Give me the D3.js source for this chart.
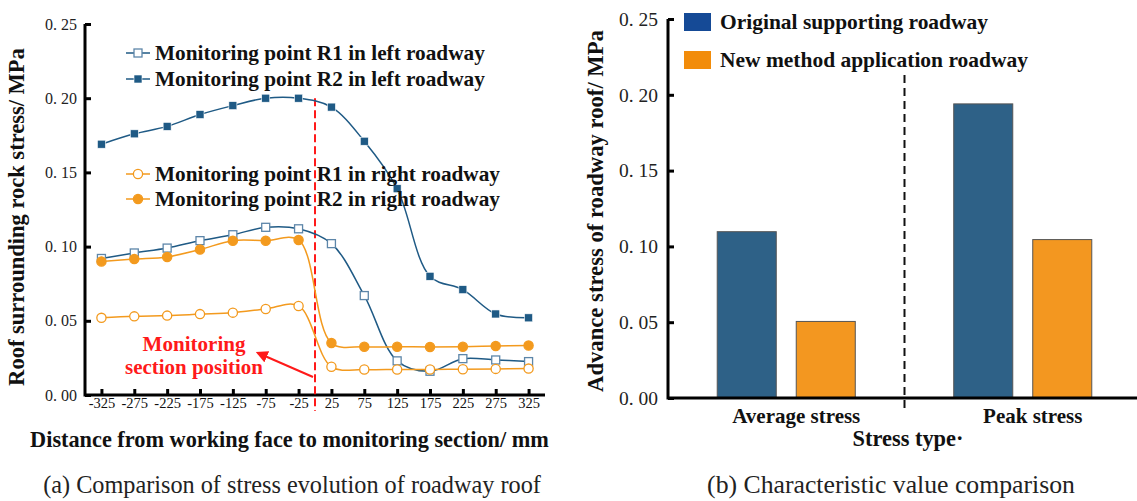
<!DOCTYPE html>
<html>
<head>
<meta charset="utf-8">
<script src="https://cdn.jsdelivr.net/npm/d3@7"></script>
<style>
  html, body { margin: 0; padding: 0; background: #fff; }
  svg { display: block; font-family: "Liberation Serif", "Times New Roman", serif; }
</style>
</head>
<body>
<svg id="chart" width="1137" height="501"></svg>
<script>
// ---- (a) stress evolution along the roadway ----
const distances = [-325, -275, -225, -175, -125, -75, -25, 25, 75, 125, 175, 225, 275, 325];
const leftR1  = [0.092, 0.0957, 0.099, 0.104, 0.108, 0.113, 0.112, 0.102, 0.067, 0.023, 0.016, 0.0245, 0.0236, 0.0225];
const leftR2  = [0.169, 0.176, 0.181, 0.189, 0.195, 0.2, 0.2, 0.194, 0.171, 0.139, 0.080, 0.071, 0.0546, 0.052];
const rightR1 = [0.052, 0.053, 0.0535, 0.0545, 0.0555, 0.058, 0.060, 0.019, 0.0172, 0.0172, 0.0172, 0.0174, 0.0176, 0.0178];
const rightR2 = [0.090, 0.0916, 0.093, 0.098, 0.104, 0.104, 0.1045, 0.035, 0.0325, 0.0325, 0.0324, 0.0325, 0.033, 0.0333];
const seriesNames = [
  "Monitoring point R1 in left roadway",
  "Monitoring point R2 in left roadway",
  "Monitoring point R1 in right roadway",
  "Monitoring point R2 in right roadway"
];
const stressTicks = [0, 0.05, 0.10, 0.15, 0.20, 0.25];

// ---- (b) characteristic values ----
const stressTypes = ["Average stress", "Peak stress"];
const roadwayTypes = ["Original supporting roadway", "New method application roadway"];
const originalValues = [0.1097, 0.194];
const newMethodValues = [0.0505, 0.1045];

const BLUE = "#1f5a85";
const BLUE_LIGHT = "#5d86a9";
const ORANGE = "#f39a1e";
const BAR_BLUE = "#2e6187";
const BAR_ORANGE = "#f39720";
const SW_BLUE = "#154a96";
const SW_ORANGE = "#f28c0a";
const SERIF = "'Liberation Serif', 'Times New Roman', serif";

const svg = d3.select("#chart").attr("font-family", SERIF);
const fmt = v => d3.format(".2f")(v).replace(".", ". ");

// scale a text's font size so that it spans the given width
function fitWidth(sel, width) {
  sel.each(function () {
    const t = d3.select(this);
    const fs = parseFloat(t.attr("font-size"));
    const w = this.getComputedTextLength();
    if (w > 0) t.attr("font-size", (fs * width / w).toFixed(2));
  });
  return sel;
}

// ================= panel (a) =================
const xA = d3.scaleLinear().domain([-350, 350]).range([85, 545]);
const yA = d3.scaleLinear().domain([0, 0.25]).range([395, 24]);

const gA = svg.append("g");

// axes (inward ticks)
const axA_x = gA.append("g").attr("transform", `translate(0,${yA(0)})`)
  .call(d3.axisBottom(xA).tickValues(distances).tickSize(-6).tickSizeOuter(0).tickFormat(d => d).tickPadding(3));
const axA_y = gA.append("g").attr("transform", `translate(${xA(-350)},0)`)
  .call(d3.axisLeft(yA).tickValues(stressTicks).tickSize(-6).tickSizeOuter(0).tickFormat(fmt).tickPadding(8));
[axA_x, axA_y].forEach(a => {
  a.attr("font-family", SERIF);
  a.select(".domain").attr("stroke", "#000").attr("stroke-width", 3);
  a.selectAll(".tick line").attr("stroke", "#000").attr("stroke-width", 3);
});
axA_x.selectAll(".tick text").attr("font-size", 14.5).attr("fill", "#111");
axA_y.selectAll(".tick text").attr("font-size", 16).attr("fill", "#222");
axA_x.select(".domain").attr("d", `M${xA(-350)},0H${xA(350)}`);
axA_y.select(".domain").attr("d", `M0,${yA(0) + 1.5}V${yA(0.25)}`);

// monitoring section line at distance 0
gA.append("line")
  .attr("x1", xA(0)).attr("x2", xA(0))
  .attr("y1", yA(0.2)).attr("y2", yA(0) + 16)
  .attr("stroke", "#ff1a1a").attr("stroke-width", 2).attr("stroke-dasharray", "8,4");

const lineGen = d3.line()
  .x((d, i) => xA(distances[i]))
  .y(d => yA(d))
  .curve(d3.curveCatmullRom.alpha(0.5));

const lineSeries = [
  { values: leftR1,  color: BLUE,   markStroke: BLUE_LIGHT, shape: "square", filled: false },
  { values: leftR2,  color: BLUE,   markStroke: BLUE,       shape: "square", filled: true },
  { values: rightR1, color: ORANGE, markStroke: ORANGE,     shape: "circle", filled: false },
  { values: rightR2, color: ORANGE, markStroke: ORANGE,     shape: "circle", filled: true }
];

function drawMarker(g, s, x, y) {
  if (s.shape === "square") {
    g.append("rect").attr("x", x - 4).attr("y", y - 4).attr("width", 8).attr("height", 8)
      .attr("fill", s.filled ? s.color : "#fff")
      .attr("stroke", s.filled ? "#fff" : s.markStroke).attr("stroke-width", s.filled ? 0.6 : 1.3);
  } else {
    g.append("circle").attr("cx", x).attr("cy", y).attr("r", 4.6)
      .attr("fill", s.filled ? s.color : "#fff")
      .attr("stroke", s.markStroke).attr("stroke-width", 1.3);
  }
}

lineSeries.forEach(s => {
  gA.append("path").datum(s.values).attr("d", lineGen)
    .attr("fill", "none").attr("stroke", s.color).attr("stroke-width", 1.5);
  const mg = gA.append("g");
  s.values.forEach((v, i) => drawMarker(mg, s, xA(distances[i]), yA(v)));
});

// legends
const legendRowsA = [
  { s: lineSeries[0], name: seriesNames[0], y: 53, w: 330 },
  { s: lineSeries[1], name: seriesNames[1], y: 79, w: 330 },
  { s: lineSeries[2], name: seriesNames[2], y: 174, w: 345 },
  { s: lineSeries[3], name: seriesNames[3], y: 199, w: 345 }
];
legendRowsA.forEach(r => {
  const g = gA.append("g");
  g.append("line").attr("x1", 126).attr("x2", 150).attr("y1", r.y).attr("y2", r.y)
    .attr("stroke", r.s.color).attr("stroke-width", 1.5);
  drawMarker(g, r.s, 138, r.y);
  g.append("text").attr("x", 155).attr("y", r.y + 7)
    .attr("font-size", 19).attr("font-weight", "bold").attr("fill", "#111")
    .text(r.name).call(fitWidth, r.w);
});

// annotation
const ann = gA.append("g").attr("fill", "#ff1a1a").attr("font-weight", "bold")
  .attr("text-anchor", "middle");
ann.append("text").attr("x", 194).attr("y", 351).attr("font-size", 19).text("Monitoring").call(fitWidth, 103);
ann.append("text").attr("x", 194).attr("y", 374).attr("font-size", 19).text("section position").call(fitWidth, 138);
svg.append("defs").append("marker").attr("id", "arrowRed")
  .attr("viewBox", "0 0 10 10").attr("refX", 8).attr("refY", 5)
  .attr("markerWidth", 6).attr("markerHeight", 6).attr("orient", "auto")
  .append("path").attr("d", "M0,0L10,5L0,10z").attr("fill", "#ff1a1a");
gA.append("line").attr("x1", xA(0) - 2).attr("y1", 377).attr("x2", 258).attr("y2", 353)
  .attr("stroke", "#ff1a1a").attr("stroke-width", 2).attr("marker-end", "url(#arrowRed)");

// titles
gA.append("text").attr("transform", "translate(24,217) rotate(-90)")
  .attr("text-anchor", "middle").attr("font-size", 18.5).attr("font-weight", "bold").attr("fill", "#111")
  .text("Roof surrounding rock stress/ MPa").call(fitWidth, 338);
gA.append("text").attr("x", 289.5).attr("y", 447)
  .attr("text-anchor", "middle").attr("font-size", 18.5).attr("font-weight", "bold").attr("fill", "#111")
  .text("Distance from working face to monitoring section/ mm").call(fitWidth, 519);
gA.append("text").attr("x", 292).attr("y", 493)
  .attr("text-anchor", "middle").attr("font-size", 18.5).attr("fill", "#222")
  .text("(a) Comparison of stress evolution of roadway roof").call(fitWidth, 498);

// ================= panel (b) =================
const x0 = d3.scaleBand().domain(stressTypes).range([668, 1141]);
const x1 = d3.scaleBand().domain(roadwayTypes).range([0, x0.bandwidth()])
  .paddingInner(0.253).paddingOuter(0.623);
const yB = d3.scaleLinear().domain([0, 0.25]).range([398, 19]);

const gB = svg.append("g");

const barData = stressTypes.map((t, i) => ({
  type: t,
  vals: [
    { key: roadwayTypes[0], v: originalValues[i], color: BAR_BLUE },
    { key: roadwayTypes[1], v: newMethodValues[i], color: BAR_ORANGE }
  ]
}));

gB.selectAll("g.grp").data(barData).join("g").attr("class", "grp")
  .attr("transform", d => `translate(${x0(d.type)},0)`)
  .selectAll("rect").data(d => d.vals).join("rect")
  .attr("x", d => x1(d.key)).attr("width", x1.bandwidth())
  .attr("y", d => yB(d.v)).attr("height", d => yB(0) - yB(d.v))
  .attr("fill", d => d.color).attr("stroke", "#555").attr("stroke-width", 1);

// divider between stress types
gB.append("line")
  .attr("x1", x0("Peak stress")).attr("x2", x0("Peak stress"))
  .attr("y1", 75).attr("y2", yB(0) + 10)
  .attr("stroke", "#111").attr("stroke-width", 2).attr("stroke-dasharray", "8,5");

const axB_y = gB.append("g").attr("transform", `translate(668,0)`)
  .call(d3.axisLeft(yB).tickValues(stressTicks).tickSize(-6).tickSizeOuter(0).tickFormat(fmt).tickPadding(10));
axB_y.attr("font-family", SERIF);
axB_y.select(".domain").attr("stroke", "#000").attr("stroke-width", 3)
  .attr("d", `M0,${yB(0) + 1.5}V${yB(0.25)}`);
axB_y.selectAll(".tick line").attr("stroke", "#000").attr("stroke-width", 3);
axB_y.selectAll(".tick text").attr("font-size", 19.5).attr("fill", "#222");

const axB_x = gB.append("g").attr("transform", `translate(0,${yB(0)})`)
  .call(d3.axisBottom(x0).tickSize(0).tickPadding(8));
axB_x.attr("font-family", SERIF);
axB_x.select(".domain").attr("stroke", "#000").attr("stroke-width", 3)
  .attr("d", `M668,0H1137`);
axB_x.selectAll(".tick text").attr("font-size", 21).attr("font-weight", "bold")
  .attr("fill", "#111").attr("dx", 10).attr("dy", "0.8em");

// legend
roadwayTypes.forEach((name, i) => {
  const y = 13 + i * 38;
  gB.append("rect").attr("x", 684).attr("y", y).attr("width", 27).attr("height", 18)
    .attr("fill", i === 0 ? SW_BLUE : SW_ORANGE);
  gB.append("text").attr("x", 720).attr("y", y + 16)
    .attr("font-size", 19).attr("font-weight", "bold").attr("fill", "#111").text(name)
    .call(fitWidth, i === 0 ? 268 : 308);
});

// titles
gB.append("text").attr("transform", "translate(603,211) rotate(-90)")
  .attr("text-anchor", "middle").attr("font-size", 18.5).attr("font-weight", "bold").attr("fill", "#111")
  .text("Advance stress of roadway roof/ MPa").call(fitWidth, 362);
gB.append("text").attr("x", 908).attr("y", 446)
  .attr("text-anchor", "middle").attr("font-size", 18.5).attr("font-weight", "bold").attr("fill", "#111")
  .text("Stress type·").call(fitWidth, 111);
gB.append("text").attr("x", 891).attr("y", 493)
  .attr("text-anchor", "middle").attr("font-size", 18.5).attr("fill", "#222")
  .text("(b) Characteristic value comparison").call(fitWidth, 368);
</script>
</body>
</html>
